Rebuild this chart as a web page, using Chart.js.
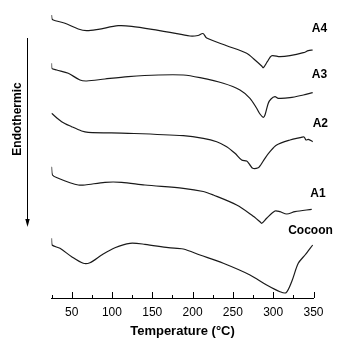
<!DOCTYPE html>
<html>
<head>
<meta charset="utf-8">
<script src="https://cdn.jsdelivr.net/npm/chart.js@4.4.1/dist/chart.umd.min.js"></script>
<style>
  body { margin: 0; background: #fff; }
  #wrap { width: 339px; height: 338px; }
</style>
</head>
<body>
<div id="wrap"><canvas id="dsc" width="339" height="338"></canvas></div>
<script>
// DSC curves, heat flow in arbitrary (offset) units, endo down
const tempTicks = [50, 100, 150, 200, 250, 300, 350];
const curveNames = ['A4', 'A3', 'A2', 'A1', 'Cocoon'];

const a4Temp = [25, 25.6, 27.2, 41.7, 58.2, 68.6, 83.0, 107.8, 124.4, 157.4, 172, 196.8, 206.7, 212.9, 217.5, 242.3, 267.1, 277.4, 285.7, 287.7, 292.7, 298.1, 308.4, 320.8, 337.4, 343.6, 349];
const a4Flow = [28.5, 28.1, 28.0, 27.67, 27.1, 26.93, 27.07, 27.43, 27.37, 26.97, 26.77, 26.4, 26.45, 26.65, 26.2, 25.43, 24.67, 24.0, 23.4, 23.23, 23.83, 24.43, 24.33, 24.43, 24.73, 24.93, 25.0];

const a3Temp = [25, 25.3, 31.4, 45.8, 60.3, 68.6, 91.3, 120.2, 157.4, 188.5, 209.2, 238.1, 258.8, 271.2, 279.5, 283.6, 287.7, 289.8, 293.9, 297.3, 302.2, 306.3, 320.8, 337.4, 349];
const a3Flow = [23.67, 23.17, 23.0, 22.67, 22.0, 21.9, 22.1, 22.33, 22.5, 22.5, 22.23, 21.67, 21.0, 20.17, 19.17, 18.6, 18.27, 18.5, 19.67, 20.1, 20.33, 20.17, 20.23, 20.5, 20.73];

const a2Temp = [25, 37.6, 50, 62.4, 70.6, 120.2, 188.5, 213.3, 229.9, 242.3, 252.6, 260.9, 267.1, 271.2, 274.6, 281.5, 284.5, 289.8, 296, 304.3, 320.8, 333.3, 338.2, 340.7, 343.6, 349];
const a2Flow = [18.67, 17.83, 17.33, 16.9, 16.77, 16.67, 16.43, 16.17, 15.83, 15.33, 14.67, 14.0, 13.9, 13.5, 13.17, 13.23, 13.5, 14.17, 14.83, 15.5, 16.0, 16.23, 16.3, 16.0, 16.07, 15.83];

const a1Temp = [25, 26.2, 33.4, 47.9, 58.2, 66.5, 91.3, 112, 140.9, 188.5, 213.3, 225.7, 254.7, 273.3, 283.6, 285.7, 291.9, 302.2, 308.4, 316.8, 327, 347.8];
const a1Flow = [13.33, 12.5, 12.17, 11.73, 11.5, 11.5, 11.77, 11.77, 11.5, 11.17, 10.85, 10.5, 9.5, 8.5, 7.83, 7.67, 8.17, 8.9, 8.83, 8.6, 8.83, 9.07];

const cocoonTemp = [25, 25.6, 35.5, 50, 64.4, 72.7, 87.2, 103.7, 122.3, 140.9, 169.9, 188.5, 209.2, 238.1, 271.2, 291.9, 308.4, 315.9, 322.9, 331.1, 339.5, 349];
const cocoonFlow = [6.17, 5.5, 5.17, 4.33, 3.67, 3.73, 4.5, 5.23, 5.67, 5.57, 5.23, 5.1, 4.5, 3.67, 2.5, 1.5, 0.83, 0.73, 1.83, 3.67, 4.5, 5.5];

// right edge of each curve name (temperature, heat flow)
const labelTemp = [367, 367, 368, 365, 374];
const labelFlow = [27.1, 22.55, 17.6, 10.6, 6.9];

const temps = [a4Temp, a3Temp, a2Temp, a1Temp, cocoonTemp];
const flows = [a4Flow, a3Flow, a2Flow, a1Flow, cocoonFlow];

const FONT = '"Liberation Sans", Arial, sans-serif';

const datasets = curveNames.map((name, i) => ({
  label: name,
  data: temps[i].map((t, j) => ({ x: t, y: flows[i][j] })),
  showLine: true,
  borderColor: '#1a1a1a',
  borderWidth: 1.2,
  pointRadius: 0,
  tension: 0.3,
  fill: false
}));

const decor = {
  id: 'decor',
  afterDraw(chart) {
    const ctx = chart.ctx;
    const xs = chart.scales.x, ys = chart.scales.y;
    const base = chart.chartArea.bottom;
    ctx.save();
    ctx.strokeStyle = '#000';
    ctx.lineWidth = 1;
    // inward ticks, major every 50, minor every 25
    for (let t = 25; t <= 350; t += 25) {
      const px = Math.round(xs.getPixelForValue(t)) + 0.5;
      const len = t % 50 === 0 ? 6 : 3;
      ctx.beginPath();
      ctx.moveTo(px, base);
      ctx.lineTo(px, base - len);
      ctx.stroke();
    }
    // curve names
    ctx.fillStyle = '#000';
    ctx.font = 'bold 12px ' + FONT;
    ctx.textBaseline = 'middle';
    ctx.textAlign = 'right';
    curveNames.forEach((n, i) => {
      ctx.fillText(n, xs.getPixelForValue(labelTemp[i]), ys.getPixelForValue(labelFlow[i]));
    });
    // endothermic arrow
    ctx.beginPath();
    ctx.moveTo(27.5, 38);
    ctx.lineTo(27.5, 222);
    ctx.stroke();
    ctx.beginPath();
    ctx.moveTo(27.5, 227);
    ctx.lineTo(25.3, 219);
    ctx.lineTo(29.7, 219);
    ctx.closePath();
    ctx.fill();
    ctx.translate(18, 119);
    ctx.rotate(-Math.PI / 2);
    ctx.textAlign = 'center';
    ctx.fillText('Endothermic', 0, 0);
    ctx.restore();
  }
};

new Chart(document.getElementById('dsc'), {
  type: 'scatter',
  data: { datasets },
  options: {
    responsive: false,
    animation: false,
    layout: { padding: { left: 51.5, right: 25.5, top: 5, bottom: 0 } },
    plugins: { legend: { display: false }, tooltip: { enabled: false } },
    scales: {
      x: {
        type: 'linear',
        min: 25,
        max: 350,
        afterBuildTicks: s => { s.ticks = tempTicks.map(v => ({ value: v })); },
        afterFit: s => { s.height = 40; },
        grid: { display: false, drawTicks: false },
        border: { display: true, color: '#000', width: 1 },
        ticks: {
          autoSkip: false,
          maxRotation: 0,
          padding: 7,
          color: '#000',
          font: { family: FONT, size: 12 }
        },
        title: {
          display: true,
          text: 'Temperature (°C)',
          color: '#000',
          padding: { top: 0, bottom: 0 },
          font: { family: FONT, size: 13, weight: 'bold', lineHeight: 1 }
        }
      },
      y: {
        display: false,
        min: 0.2,
        max: 29.5
      }
    }
  },
  plugins: [decor]
});
</script>
</body>
</html>
